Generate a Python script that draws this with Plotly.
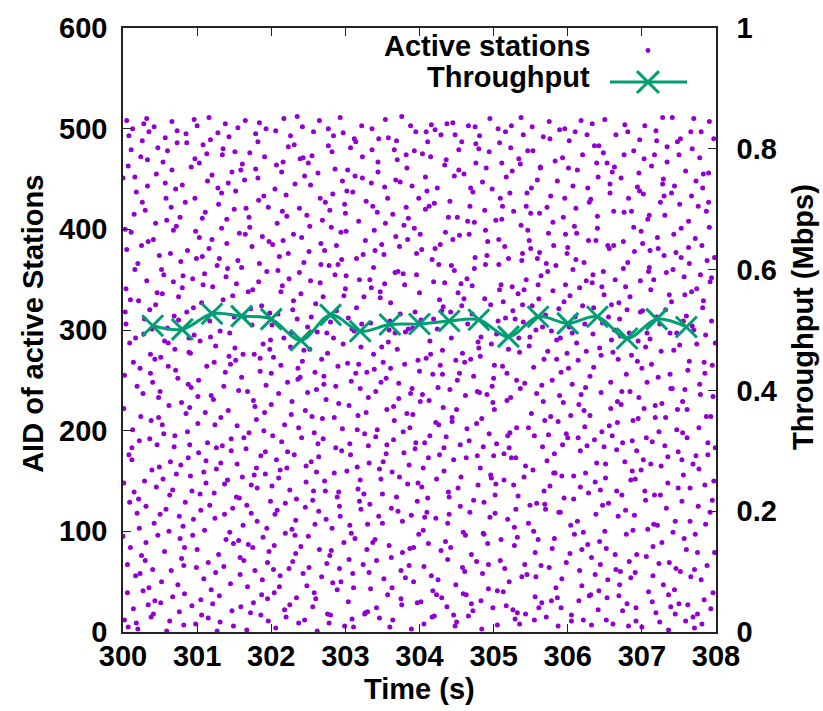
import plotly.graph_objects as go

# ---- data: active stations (time in s, AID) ----
time_s = [
300.07,300.02,300.09,300.04,300.00,300.05,300.08,300.01,300.06,300.03,300.03,300.09,300.00,300.06,300.02,300.08,300.05,300.01,300.07,300.04,
300.13,300.18,300.10,300.16,300.19,300.11,300.14,300.17,300.12,300.15,300.10,300.17,300.13,300.19,300.15,300.11,300.18,300.14,300.16,300.12,
300.25,300.21,300.26,300.29,300.23,300.27,300.20,300.24,300.28,300.22,300.26,300.22,300.29,300.20,300.24,300.27,300.21,300.25,300.23,300.28,
300.30,300.39,300.34,300.32,300.37,300.35,300.31,300.38,300.33,300.36,300.38,300.34,300.31,300.37,300.33,300.30,300.39,300.36,300.32,300.35,
300.48,300.44,300.42,300.47,300.41,300.46,300.49,300.43,300.45,300.40,300.41,300.45,300.48,300.42,300.47,300.44,300.40,300.43,300.49,300.46,
300.52,300.56,300.58,300.50,300.55,300.53,300.57,300.59,300.51,300.54,300.59,300.53,300.56,300.54,300.50,300.58,300.52,300.57,300.55,300.51,
300.69,300.60,300.63,300.65,300.68,300.62,300.66,300.61,300.64,300.67,300.65,300.68,300.62,300.61,300.66,300.69,300.63,300.60,300.64,300.67,
300.74,300.77,300.71,300.78,300.76,300.70,300.73,300.75,300.79,300.72,300.77,300.70,300.74,300.75,300.79,300.73,300.76,300.72,300.78,300.71,
300.86,300.83,300.85,300.81,300.84,300.89,300.82,300.80,300.87,300.88,300.82,300.86,300.85,300.88,300.81,300.84,300.87,300.89,300.80,300.83,
300.91,300.95,300.97,300.93,300.92,300.98,300.95,300.96,300.90,300.99,300.94,300.91,300.97,300.93,300.98,300.96,300.90,300.92,300.99,300.94,
301.07,301.02,301.09,301.04,301.00,301.05,301.08,301.01,301.06,301.03,301.03,301.09,301.00,301.06,301.02,301.08,301.05,301.01,301.07,301.04,
301.13,301.18,301.10,301.16,301.19,301.11,301.14,301.17,301.12,301.15,301.10,301.17,301.13,301.19,301.15,301.11,301.18,301.14,301.16,301.12,
301.25,301.21,301.26,301.29,301.23,301.27,301.20,301.24,301.28,301.22,301.26,301.22,301.29,301.20,301.24,301.27,301.21,301.25,301.23,301.28,
301.30,301.39,301.34,301.32,301.37,301.35,301.31,301.38,301.33,301.36,301.38,301.34,301.31,301.37,301.33,301.30,301.39,301.36,301.32,301.35,
301.48,301.44,301.42,301.47,301.41,301.46,301.49,301.43,301.45,301.40,301.41,301.45,301.48,301.42,301.47,301.44,301.40,301.43,301.49,301.46,
301.52,301.56,301.58,301.50,301.55,301.53,301.57,301.59,301.51,301.54,301.59,301.53,301.56,301.54,301.50,301.58,301.52,301.57,301.55,301.51,
301.69,301.60,301.63,301.65,301.68,301.62,301.66,301.61,301.64,301.67,301.65,301.68,301.62,301.61,301.66,301.69,301.63,301.60,301.64,301.67,
301.74,301.77,301.71,301.78,301.76,301.70,301.73,301.75,301.79,301.72,301.77,301.70,301.74,301.75,301.79,301.73,301.76,301.72,301.78,301.71,
301.86,301.83,301.85,301.81,301.84,301.89,301.82,301.80,301.87,301.88,301.82,301.86,301.85,301.88,301.81,301.84,301.87,301.89,301.80,301.83,
301.91,301.95,301.97,301.93,301.92,301.98,301.95,301.96,301.90,301.99,301.94,301.91,301.97,301.93,301.98,301.96,301.90,301.92,301.99,301.94,
302.07,302.02,302.09,302.04,302.00,302.05,302.08,302.01,302.06,302.03,302.03,302.09,302.00,302.06,302.02,302.08,302.05,302.01,302.07,302.04,
302.13,302.18,302.10,302.16,302.19,302.11,302.14,302.17,302.12,302.15,302.10,302.17,302.13,302.19,302.15,302.11,302.18,302.14,302.16,302.12,
302.25,302.21,302.26,302.29,302.23,302.27,302.20,302.24,302.28,302.22,302.26,302.22,302.29,302.20,302.24,302.27,302.21,302.25,302.23,302.28,
302.30,302.39,302.34,302.32,302.37,302.35,302.31,302.38,302.33,302.36,302.38,302.34,302.31,302.37,302.33,302.30,302.39,302.36,302.32,302.35,
302.48,302.44,302.42,302.47,302.41,302.46,302.49,302.43,302.45,302.40,302.41,302.45,302.48,302.42,302.47,302.44,302.40,302.43,302.49,302.46,
302.52,302.56,302.58,302.50,302.55,302.53,302.57,302.59,302.51,302.54,302.59,302.53,302.56,302.54,302.50,302.58,302.52,302.57,302.55,302.51,
302.69,302.60,302.63,302.65,302.68,302.62,302.66,302.61,302.64,302.67,302.65,302.68,302.62,302.61,302.66,302.69,302.63,302.60,302.64,302.67,
302.74,302.77,302.71,302.78,302.76,302.70,302.73,302.75,302.79,302.72,302.77,302.70,302.74,302.75,302.79,302.73,302.76,302.72,302.78,302.71,
302.86,302.83,302.85,302.81,302.84,302.89,302.82,302.80,302.87,302.88,302.82,302.86,302.85,302.88,302.81,302.84,302.87,302.89,302.80,302.83,
302.91,302.95,302.97,302.93,302.92,302.98,302.95,302.96,302.90,302.99,302.94,302.91,302.97,302.93,302.98,302.96,302.90,302.92,302.99,302.94,
303.07,303.02,303.09,303.04,303.00,303.05,303.08,303.01,303.06,303.03,303.03,303.09,303.00,303.06,303.02,303.08,303.05,303.01,303.07,303.04,
303.13,303.18,303.10,303.16,303.19,303.11,303.14,303.17,303.12,303.15,303.10,303.17,303.13,303.19,303.15,303.11,303.18,303.14,303.16,303.12,
303.25,303.21,303.26,303.29,303.23,303.27,303.20,303.24,303.28,303.22,303.26,303.22,303.29,303.20,303.24,303.27,303.21,303.25,303.23,303.28,
303.30,303.39,303.34,303.32,303.37,303.35,303.31,303.38,303.33,303.36,303.38,303.34,303.31,303.37,303.33,303.30,303.39,303.36,303.32,303.35,
303.48,303.44,303.42,303.47,303.41,303.46,303.49,303.43,303.45,303.40,303.41,303.45,303.48,303.42,303.47,303.44,303.40,303.43,303.49,303.46,
303.52,303.56,303.58,303.50,303.55,303.53,303.57,303.59,303.51,303.54,303.59,303.53,303.56,303.54,303.50,303.58,303.52,303.57,303.55,303.51,
303.69,303.60,303.63,303.65,303.68,303.62,303.66,303.61,303.64,303.67,303.65,303.68,303.62,303.61,303.66,303.69,303.63,303.60,303.64,303.67,
303.74,303.77,303.71,303.78,303.76,303.70,303.73,303.75,303.79,303.72,303.77,303.70,303.74,303.75,303.79,303.73,303.76,303.72,303.78,303.71,
303.86,303.83,303.85,303.81,303.84,303.89,303.82,303.80,303.87,303.88,303.82,303.86,303.85,303.88,303.81,303.84,303.87,303.89,303.80,303.83,
303.91,303.95,303.97,303.93,303.92,303.98,303.95,303.96,303.90,303.99,303.94,303.91,303.97,303.93,303.98,303.96,303.90,303.92,303.99,303.94,
304.07,304.02,304.09,304.04,304.00,304.05,304.08,304.01,304.06,304.03,304.03,304.09,304.00,304.06,304.02,304.08,304.05,304.01,304.07,304.04,
304.13,304.18,304.10,304.16,304.19,304.11,304.14,304.17,304.12,304.15,304.10,304.17,304.13,304.19,304.15,304.11,304.18,304.14,304.16,304.12,
304.25,304.21,304.26,304.29,304.23,304.27,304.20,304.24,304.28,304.22,304.26,304.22,304.29,304.20,304.24,304.27,304.21,304.25,304.23,304.28,
304.30,304.39,304.34,304.32,304.37,304.35,304.31,304.38,304.33,304.36,304.38,304.34,304.31,304.37,304.33,304.30,304.39,304.36,304.32,304.35,
304.48,304.44,304.42,304.47,304.41,304.46,304.49,304.43,304.45,304.40,304.41,304.45,304.48,304.42,304.47,304.44,304.40,304.43,304.49,304.46,
304.52,304.56,304.58,304.50,304.55,304.53,304.57,304.59,304.51,304.54,304.59,304.53,304.56,304.54,304.50,304.58,304.52,304.57,304.55,304.51,
304.69,304.60,304.63,304.65,304.68,304.62,304.66,304.61,304.64,304.67,304.65,304.68,304.62,304.61,304.66,304.69,304.63,304.60,304.64,304.67,
304.74,304.77,304.71,304.78,304.76,304.70,304.73,304.75,304.79,304.72,304.77,304.70,304.74,304.75,304.79,304.73,304.76,304.72,304.78,304.71,
304.86,304.83,304.85,304.81,304.84,304.89,304.82,304.80,304.87,304.88,304.82,304.86,304.85,304.88,304.81,304.84,304.87,304.89,304.80,304.83,
304.91,304.95,304.97,304.93,304.92,304.98,304.95,304.96,304.90,304.99,304.94,304.91,304.97,304.93,304.98,304.96,304.90,304.92,304.99,304.94,
305.07,305.02,305.09,305.04,305.00,305.05,305.08,305.01,305.06,305.03,305.03,305.09,305.00,305.06,305.02,305.08,305.05,305.01,305.07,305.04,
305.13,305.18,305.10,305.16,305.19,305.11,305.14,305.17,305.12,305.15,305.10,305.17,305.13,305.19,305.15,305.11,305.18,305.14,305.16,305.12,
305.25,305.21,305.26,305.29,305.23,305.27,305.20,305.24,305.28,305.22,305.26,305.22,305.29,305.20,305.24,305.27,305.21,305.25,305.23,305.28,
305.30,305.39,305.34,305.32,305.37,305.35,305.31,305.38,305.33,305.36,305.38,305.34,305.31,305.37,305.33,305.30,305.39,305.36,305.32,305.35,
305.48,305.44,305.42,305.47,305.41,305.46,305.49,305.43,305.45,305.40,305.41,305.45,305.48,305.42,305.47,305.44,305.40,305.43,305.49,305.46,
305.52,305.56,305.58,305.50,305.55,305.53,305.57,305.59,305.51,305.54,305.59,305.53,305.56,305.54,305.50,305.58,305.52,305.57,305.55,305.51,
305.69,305.60,305.63,305.65,305.68,305.62,305.66,305.61,305.64,305.67,305.65,305.68,305.62,305.61,305.66,305.69,305.63,305.60,305.64,305.67,
305.74,305.77,305.71,305.78,305.76,305.70,305.73,305.75,305.79,305.72,305.77,305.70,305.74,305.75,305.79,305.73,305.76,305.72,305.78,305.71,
305.86,305.83,305.85,305.81,305.84,305.89,305.82,305.80,305.87,305.88,305.82,305.86,305.85,305.88,305.81,305.84,305.87,305.89,305.80,305.83,
305.91,305.95,305.97,305.93,305.92,305.98,305.95,305.96,305.90,305.99,305.94,305.91,305.97,305.93,305.98,305.96,305.90,305.92,305.99,305.94,
306.07,306.02,306.09,306.04,306.00,306.05,306.08,306.01,306.06,306.03,306.03,306.09,306.00,306.06,306.02,306.08,306.05,306.01,306.07,306.04,
306.13,306.18,306.10,306.16,306.19,306.11,306.14,306.17,306.12,306.15,306.10,306.17,306.13,306.19,306.15,306.11,306.18,306.14,306.16,306.12,
306.25,306.21,306.26,306.29,306.23,306.27,306.20,306.24,306.28,306.22,306.26,306.22,306.29,306.20,306.24,306.27,306.21,306.25,306.23,306.28,
306.30,306.39,306.34,306.32,306.37,306.35,306.31,306.38,306.33,306.36,306.38,306.34,306.31,306.37,306.33,306.30,306.39,306.36,306.32,306.35,
306.48,306.44,306.42,306.47,306.41,306.46,306.49,306.43,306.45,306.40,306.41,306.45,306.48,306.42,306.47,306.44,306.40,306.43,306.49,306.46,
306.52,306.56,306.58,306.50,306.55,306.53,306.57,306.59,306.51,306.54,306.59,306.53,306.56,306.54,306.50,306.58,306.52,306.57,306.55,306.51,
306.69,306.60,306.63,306.65,306.68,306.62,306.66,306.61,306.64,306.67,306.65,306.68,306.62,306.61,306.66,306.69,306.63,306.60,306.64,306.67,
306.74,306.77,306.71,306.78,306.76,306.70,306.73,306.75,306.79,306.72,306.77,306.70,306.74,306.75,306.79,306.73,306.76,306.72,306.78,306.71,
306.86,306.83,306.85,306.81,306.84,306.89,306.82,306.80,306.87,306.88,306.82,306.86,306.85,306.88,306.81,306.84,306.87,306.89,306.80,306.83,
306.91,306.95,306.97,306.93,306.92,306.98,306.95,306.96,306.90,306.99,306.94,306.91,306.97,306.93,306.98,306.96,306.90,306.92,306.99,306.94,
307.07,307.02,307.09,307.04,307.00,307.05,307.08,307.01,307.06,307.03,307.03,307.09,307.00,307.06,307.02,307.08,307.05,307.01,307.07,307.04,
307.13,307.18,307.10,307.16,307.19,307.11,307.14,307.17,307.12,307.15,307.10,307.17,307.13,307.19,307.15,307.11,307.18,307.14,307.16,307.12,
307.25,307.21,307.26,307.29,307.23,307.27,307.20,307.24,307.28,307.22,307.26,307.22,307.29,307.20,307.24,307.27,307.21,307.25,307.23,307.28,
307.30,307.39,307.34,307.32,307.37,307.35,307.31,307.38,307.33,307.36,307.38,307.34,307.31,307.37,307.33,307.30,307.39,307.36,307.32,307.35,
307.48,307.44,307.42,307.47,307.41,307.46,307.49,307.43,307.45,307.40,307.41,307.45,307.48,307.42,307.47,307.44,307.40,307.43,307.49,307.46,
307.52,307.56,307.58,307.50,307.55,307.53,307.57,307.59,307.51,307.54,307.59,307.53,307.56,307.54,307.50,307.58,307.52,307.57,307.55,307.51,
307.69,307.60,307.63,307.65,307.68,307.62,307.66,307.61,307.64,307.67,307.65,307.68,307.62,307.61,307.66,307.69,307.63,307.60,307.64,307.67,
307.74,307.77,307.71,307.78,307.76,307.70,307.73,307.75,307.79,307.72,307.77,307.70,307.74,307.75,307.79,307.73,307.76,307.72,307.78,307.71,
307.86,307.83,307.85,307.81,307.84,307.89,307.82,307.80,307.87,307.88,307.82,307.86,307.85,307.88,307.81,307.84,307.87,307.89,307.80,307.83,
307.91,307.95,307.97,307.93,307.92,307.98,307.95,307.96,307.90,307.99,307.94,307.91,307.97,307.93,307.98,307.96,307.90,307.92,307.99,307.94,
]

aid = [
463,12,287,341,95,508,176,222,39,400,318,129,451,67,255,493,380,148,5,306,
201,437,84,360,118,479,23,292,171,415,330,56,500,244,139,397,9,268,452,183,
76,329,488,150,262,41,366,214,505,103,427,190,311,3,472,237,132,384,58,296,
419,161,27,349,276,497,89,210,443,320,15,388,125,257,469,71,301,192,510,44,
233,406,108,481,18,337,164,271,455,62,390,144,213,502,96,325,248,31,374,186,
50,289,431,117,355,206,491,1,273,152,409,336,80,467,239,122,360,446,197,29,
314,478,136,61,399,225,507,287,169,35,422,348,100,264,459,184,11,302,376,141,
252,93,440,368,20,195,486,310,73,157,412,281,47,333,228,498,115,403,166,260,
486,38,217,354,129,292,7,444,379,173,66,318,495,246,105,427,199,278,342,84,
155,322,470,26,243,398,112,509,186,64,351,277,431,140,8,295,223,462,371,96,
411,178,53,289,503,121,345,234,17,466,392,159,82,327,250,484,32,207,373,137,
264,489,101,381,42,218,448,309,170,14,356,126,475,235,69,417,293,188,511,148,
59,343,183,425,268,1,390,113,496,231,162,317,77,454,206,364,28,284,138,441,
371,92,474,213,147,330,10,258,401,65,505,185,299,117,436,36,353,244,168,480,
123,297,446,21,361,180,88,492,266,410,151,48,334,220,457,99,386,274,6,192,
438,240,74,313,501,134,396,25,282,167,459,346,91,205,420,57,270,133,369,477,
87,362,193,508,45,276,421,154,313,2,395,239,106,465,182,338,71,253,449,126,
305,156,476,61,230,412,118,340,495,19,276,198,383,84,460,146,29,321,224,402,
17,429,272,143,366,94,487,211,324,52,451,175,259,393,110,506,37,286,163,348,
218,69,388,500,157,281,33,422,200,130,358,472,80,245,317,11,433,179,290,103,
464,195,316,39,257,117,406,145,498,273,62,359,226,4,385,121,440,305,171,86,
338,22,237,467,98,373,189,292,56,418,153,510,265,128,344,45,206,457,389,161,
141,413,283,70,482,216,15,351,102,248,493,179,320,434,63,297,163,27,376,229,
395,253,132,445,9,311,176,421,78,262,357,34,484,203,111,329,470,251,96,512,
46,280,502,165,392,124,238,58,453,336,193,12,414,269,149,367,85,471,303,220,
281,131,39,466,214,349,497,107,378,169,258,444,25,313,95,198,403,140,473,64,
409,326,187,82,271,1,431,241,120,386,508,55,298,159,347,212,456,33,174,365,
112,483,246,364,18,192,427,297,76,150,500,333,231,68,419,140,277,379,9,254,
355,49,158,402,292,134,477,17,244,384,103,460,213,319,81,493,183,42,308,435,
227,370,496,115,63,334,180,448,264,6,397,139,286,511,89,202,365,125,425,50,
481,160,301,30,416,225,98,354,187,459,267,13,341,106,438,249,72,398,176,312,
93,266,437,201,350,5,487,142,299,371,58,215,453,130,322,44,408,257,164,490,
333,122,18,258,472,389,151,67,428,306,197,503,82,242,375,19,283,137,451,218,
20,399,307,168,89,446,233,362,127,500,276,43,185,423,350,107,261,479,59,342,
248,457,71,332,194,14,283,417,115,379,239,490,152,24,338,467,92,201,385,162,
375,186,491,108,252,442,37,300,169,406,86,346,221,509,137,288,53,431,177,268,
134,309,44,224,393,123,479,262,12,357,191,449,74,327,210,488,159,5,415,297,
447,79,358,199,512,281,154,33,404,232,110,469,316,61,178,383,27,247,356,120,
66,217,411,298,147,3,474,345,83,237,422,166,301,503,54,390,203,116,266,461,
302,497,130,401,50,270,188,355,443,97,318,216,29,478,148,376,242,84,431,182,
188,30,272,475,337,101,420,229,8,380,144,497,259,65,310,452,163,395,114,236,
423,256,119,56,311,487,195,370,88,276,438,15,230,348,472,133,41,289,504,173,
52,381,206,494,152,330,16,441,265,113,365,208,81,426,301,176,499,243,37,385,
319,139,464,223,25,397,280,72,183,469,108,347,256,505,160,34,412,194,323,90,
494,213,84,359,428,171,47,292,506,134,241,390,6,318,453,209,117,364,270,17,
143,346,277,10,186,459,324,99,412,257,38,479,154,394,221,64,337,487,125,250,
271,455,37,408,119,235,503,60,351,190,306,423,96,268,16,441,173,331,202,395,
407,70,316,175,485,28,254,372,146,437,207,77,361,502,288,131,466,21,239,344,
98,293,447,238,3,365,163,480,97,419,274,184,58,331,493,212,129,399,282,31,
236,510,153,67,388,244,114,325,461,24,197,374,286,43,440,156,305,88,228,477,
365,118,431,296,175,41,486,221,309,147,409,71,252,500,136,340,7,265,390,187,
40,257,345,497,112,410,177,26,264,383,92,452,328,195,63,466,230,151,312,423,
458,183,22,311,233,146,371,503,86,198,319,436,13,281,173,418,50,343,481,104,
173,325,470,94,404,8,250,369,135,465,55,292,203,511,336,122,376,242,19,278,
284,423,67,203,340,478,126,18,436,308,154,57,389,247,108,350,494,165,293,399,
502,79,237,381,12,161,300,449,217,100,371,478,35,263,416,128,324,55,195,441,
127,345,462,29,271,416,184,331,66,492,245,140,377,24,303,210,461,92,354,229,
396,214,15,299,490,122,358,64,250,170,433,315,196,507,83,279,145,422,31,366,
34,468,290,158,364,235,93,407,6,321,177,448,271,119,384,44,209,499,339,158,
258,133,395,471,53,197,328,500,119,277,412,24,345,186,69,431,292,155,376,228,
443,303,97,215,382,11,155,461,246,334,78,403,193,297,488,132,17,262,360,106,
110,236,497,342,46,421,270,180,396,31,313,144,459,82,226,370,508,193,61,287,
349,12,185,427,306,87,474,243,138,367,494,220,36,324,158,441,99,279,204,389,
215,466,355,74,149,263,37,389,505,191,117,296,430,57,347,254,168,483,7,322,
476,141,41,307,452,199,335,90,275,413,22,238,358,483,126,67,401,282,184,343,
83,381,222,509,128,34,445,290,167,52,325,466,205,384,100,248,12,436,313,153,
327,195,462,62,271,384,140,8,350,229,494,115,418,278,181,36,300,457,77,208,
188,504,294,121,417,47,239,361,97,451,169,311,21,388,256,136,474,226,343,60,
418,70,151,367,239,478,6,320,190,101,431,275,54,210,497,333,160,402,28,297,
59,289,438,180,24,349,212,456,116,398,269,152,489,77,318,233,378,11,161,442,
297,171,40,503,262,131,410,319,75,222,470,358,5,193,435,102,283,386,248,140,
463,225,362,107,19,291,189,474,340,56,414,136,266,498,85,379,213,30,350,167,
136,392,279,450,199,89,313,10,445,253,165,381,47,488,306,227,106,427,68,511,
374,25,482,213,335,148,414,256,123,37,297,467,185,69,357,433,242,2,320,174,
221,443,99,297,511,63,179,395,18,328,242,110,487,360,201,42,436,280,143,377,
490,156,335,28,229,372,93,458,285,171,11,401,309,130,474,241,60,353,198,425,
15,314,408,143,480,260,55,193,366,433,110,304,27,221,497,167,382,82,269,338,
341,203,62,471,125,300,448,18,236,391,162,510,286,79,355,175,423,97,246,4,
107,455,257,384,32,176,322,497,214,66,441,295,146,369,8,268,418,188,52,329,
402,131,490,214,348,79,265,39,427,183,309,507,150,23,372,234,456,119,287,352,
]

# ---- data: throughput ----
tp_time = [300.4, 300.8, 301.2, 301.6, 302.0, 302.4, 302.8, 303.2, 303.6, 304.0,
           304.4, 304.8, 305.2, 305.6, 306.0, 306.4, 306.8, 307.2, 307.6]
tp_mbps = [0.507, 0.501, 0.527, 0.523, 0.518, 0.483, 0.525, 0.498, 0.509, 0.510,
           0.515, 0.517, 0.489, 0.522, 0.511, 0.522, 0.486, 0.518, 0.505]

x_ticks = [300, 301, 302, 303, 304, 305, 306, 307, 308]
y_ticks = [0, 100, 200, 300, 400, 500, 600]
y2_ticks = [0, 0.2, 0.4, 0.6, 0.8, 1]
y2_labels = ["0", "0.2", "0.4", "0.6", "0.8", "1"]

PURPLE = "#9400d3"
GREEN = "#009e73"
AXIS = "#222222"
FAM = "Liberation Sans, Arial, Helvetica, sans-serif"
FONT = dict(family=FAM, size=29, color="black", weight="bold")

n = min(len(time_s), len(aid))

fig = go.Figure()
fig.add_trace(go.Scatter(
    x=time_s[:n], y=aid[:n], mode="markers", name="Active stations",
    marker=dict(color=PURPLE, size=5, line=dict(width=0)),
    yaxis="y", showlegend=False, cliponaxis=True,
))
fig.add_trace(go.Scatter(
    x=tp_time, y=tp_mbps, mode="lines+markers", name="Throughput",
    line=dict(color=GREEN, width=3, shape="spline", smoothing=1.0),
    marker=dict(symbol="x-thin", size=21, color=GREEN, line=dict(color=GREEN, width=3)),
    yaxis="y2", showlegend=False,
))

axis_common = dict(
    showgrid=False, zeroline=False, showline=True, linecolor=AXIS, linewidth=1.5,
    ticks="inside", ticklen=8, tickwidth=1.2, tickcolor=AXIS,
    tickfont=FONT,
)

fig.update_layout(
    width=823, height=711,
    margin=dict(l=123, r=107, t=25, b=79, pad=0),
    paper_bgcolor="white", plot_bgcolor="white",
    showlegend=False,
    xaxis=dict(range=[300, 308], tickvals=x_ticks, mirror="ticks",
               ticklabelstandoff=-3, **axis_common),
    yaxis=dict(range=[0, 600], tickvals=y_ticks, ticklabelstandoff=8, **axis_common),
    yaxis2=dict(range=[0, 1], tickvals=y2_ticks, ticktext=y2_labels, overlaying="y",
                side="right", ticklabelstandoff=13, **axis_common),
)

# axis titles
fig.add_annotation(text="Time (s)", xref="paper", yref="paper", x=0.5, y=-0.094,
                   showarrow=False, font=FONT, xanchor="center", yanchor="middle")
fig.add_annotation(text="AID of active Stations", xref="paper", yref="paper",
                   x=-0.152, y=0.51, textangle=-90, showarrow=False, font=FONT,
                   xanchor="center", yanchor="middle")
fig.add_annotation(text="Throughput (Mbps)", xref="paper", yref="paper",
                   x=1.147, y=0.522, textangle=-90, showarrow=False, font=FONT,
                   xanchor="center", yanchor="middle")

# legend (gnuplot style: text, then sample to the right)
fig.add_annotation(text="Active stations", xref="paper", yref="paper", x=0.791, y=0.971,
                   showarrow=False, font=FONT, xanchor="right", yanchor="middle")
fig.add_annotation(text="Throughput", xref="paper", yref="paper", x=0.791, y=0.919,
                   showarrow=False, font=FONT, xanchor="right", yanchor="middle")
cx, cy = 0.8853, 0.9105
fig.add_shape(type="circle", xref="paper", yref="paper",
              x0=cx - 0.0042, x1=cx + 0.0042, y0=0.9626 - 0.0041, y1=0.9626 + 0.0041,
              fillcolor=PURPLE, line=dict(width=0))
fig.add_shape(type="line", xref="paper", yref="paper", x0=0.8212, x1=0.9511, y0=cy, y1=cy,
              line=dict(color=GREEN, width=3))
fig.add_shape(type="line", xref="paper", yref="paper", x0=cx - 0.0186, x1=cx + 0.0186,
              y0=cy - 0.0181, y1=cy + 0.0181, line=dict(color=GREEN, width=3))
fig.add_shape(type="line", xref="paper", yref="paper", x0=cx - 0.0186, x1=cx + 0.0186,
              y0=cy + 0.0181, y1=cy - 0.0181, line=dict(color=GREEN, width=3))

fig.write_html("out.html")
